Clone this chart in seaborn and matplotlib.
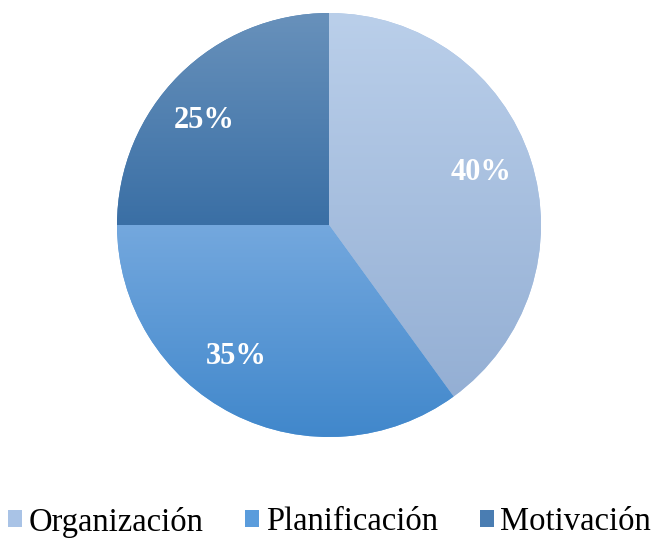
import numpy as np
import seaborn as sns
import matplotlib.pyplot as plt
from matplotlib.colors import to_rgb
from matplotlib.patches import Patch

# Datos
categorias = ['Organización', 'Planificación', 'Motivación']
porcentajes = [40, 35, 25]
colores_arriba = ['#bacfea', '#74a8de', '#6891bb']
colores_abajo = ['#94afd4', '#4087cb', '#3a6fa5']
colores_leyenda = ['#a9c3e6', '#5a9cdc', '#4a7db2']
# posicion de las etiquetas (angulo en grados, radio relativo)
angulos_etiqueta = [19, -125, 140]
radios_etiqueta = [0.76, 0.76, 0.77]

sns.set_theme(style='white')
plt.rcParams['font.family'] = ['Liberation Serif', 'DejaVu Serif']

fig = plt.figure(figsize=(6.59, 5.42), dpi=100)
ax = fig.add_axes([117 / 659, 1 - 437 / 542, 424 / 659, 424 / 542])

wedges, textos = ax.pie(
    porcentajes,
    labels=[f'{p}%' for p in porcentajes],
    colors=colores_leyenda,
    startangle=90,
    counterclock=False,
    radius=1,
    labeldistance=0.76,
    wedgeprops=dict(linewidth=0),
    textprops=dict(color='white', fontsize=22, fontweight='bold', ha='center', va='center'),
)

# Degradado vertical dentro de cada porcion
for w, c_top, c_bot in zip(wedges, colores_arriba, colores_abajo):
    v = w.get_path().vertices
    x0, x1 = v[:, 0].min(), v[:, 0].max()
    y0, y1 = v[:, 1].min(), v[:, 1].max()
    t = np.linspace(0, 1, 256)[:, None, None]
    grad = (1 - t) * np.array(to_rgb(c_top)) + t * np.array(to_rgb(c_bot))
    img = ax.imshow(grad, extent=[x0, x1, y0, y1], origin='upper', aspect='auto', zorder=w.get_zorder() + 0.1)
    img.set_clip_path(w)

for txt, ang, r in zip(textos, angulos_etiqueta, radios_etiqueta):
    a = np.deg2rad(ang)
    txt.set_position((r * np.cos(a), r * np.sin(a)))
    txt.set_zorder(5)

ax.set_xlim(-1, 1)
ax.set_ylim(-1, 1)
ax.set_aspect('auto')
ax.axis('off')

handles = [Patch(facecolor=c, edgecolor='none') for c in colores_leyenda]
fig.legend(handles, categorias, loc='center', bbox_to_anchor=(0.5, 1 - 522 / 542), ncol=3,
           frameon=False, fontsize=23.5, handlelength=0.42, handleheight=0.42,
           handletextpad=0.2, columnspacing=1.3, borderpad=0, labelcolor='black')

fig.savefig('out.png', dpi=100)
